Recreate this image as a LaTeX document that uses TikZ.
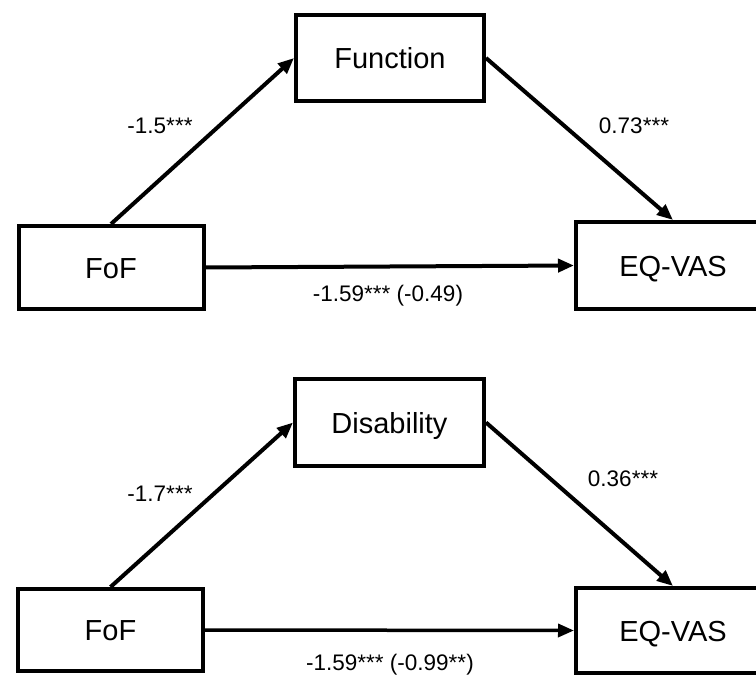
\documentclass[tikz,border=0pt]{standalone}
\usepackage{fontspec}
\setmainfont{Liberation Sans}
\usetikzlibrary{arrows.meta}
\begin{document}
\begin{tikzpicture}[x=1pt,y=-1pt,
  varbox/.style={draw=black,line width=4pt,fill=white,inner sep=0pt,
    text height=21pt,text depth=0pt,
    font=\fontsize{29}{34}\selectfont},
  conn/.style={line width=4pt,-{Triangle[length=16pt,width=13pt]}},
  coef/.style={inner sep=0pt,text height=16pt,text depth=0pt,
    font=\fontsize{22.5}{26}\selectfont}]
\useasboundingbox (0,0) rectangle (756,677);
% top diagram
\node[varbox,minimum width=188pt,minimum height=86pt] (fun) at (390,58) {Function};
\node[varbox,minimum width=185pt,minimum height=83pt] (fof1) at (111,267.5) {FoF};
\node[varbox,minimum width=194pt,minimum height=87pt] (eq1) at (673,265.5) {EQ-VAS};
\draw[conn] (fof1.north) -- (fun.west);
\draw[conn] (fun.east) -- (eq1.north);
\draw[conn] (fof1.east) -- (eq1.west);
\node[coef] (l1) at (160,125) {-1.5***};
\node[coef] (l2) at (634,125) {0.73***};
\node[coef] (l3) at (388,293) {-1.59*** (-0.49)};
% bottom diagram
\node[varbox,minimum width=189pt,minimum height=87pt] (dis) at (389.5,422.5) {Disability};
\node[varbox,minimum width=185pt,minimum height=82pt] (fof2) at (110.5,630) {FoF};
\node[varbox,minimum width=194pt,minimum height=85pt] (eq2) at (673,630.5) {EQ-VAS};
\draw[conn] (fof2.north) -- (dis.west);
\draw[conn] (dis.east) -- (eq2.north);
\draw[conn,line width=3.5pt] (fof2.east) -- (eq2.west);
\node[coef] (l4) at (160,493) {-1.7***};
\node[coef] (l5) at (623,478) {0.36***};
\node[coef] (l6) at (390,662) {-1.59*** (-0.99**)};
\end{tikzpicture}
\end{document}
